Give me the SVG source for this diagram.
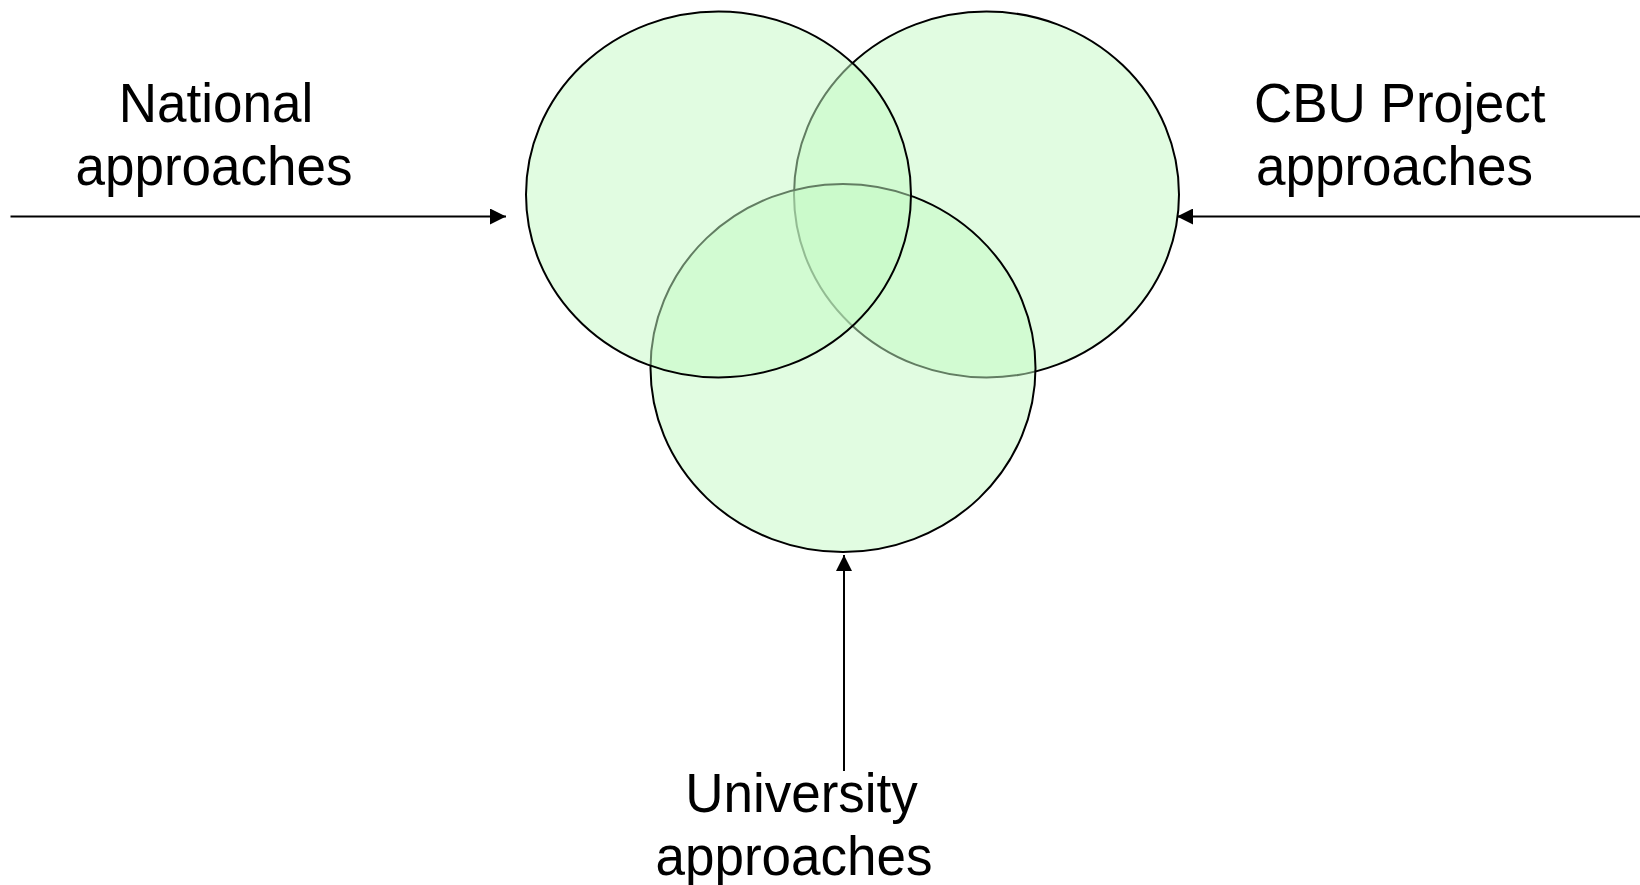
<svg xmlns="http://www.w3.org/2000/svg" width="1640" height="885" viewBox="0 0 1640 885">
<style>
.venn{fill:#C4FAC4;fill-opacity:0.5;stroke:#000;stroke-width:2}
.lbl{font-family:"Liberation Sans",Arial,sans-serif;font-size:53px;fill:#000}
.conn{stroke:#000;stroke-width:2;fill:none}
</style>
<defs>
<marker id="ah" markerUnits="userSpaceOnUse" markerWidth="16" markerHeight="16" viewBox="0 0 16 16" refX="16" refY="8" orient="auto">
<path d="M0,0 L16,8 L0,16 Z" fill="#000"/>
</marker>
</defs>
<rect width="1640" height="885" fill="#fff"/>
<g id="cbu-circle"><ellipse class="venn" cx="986.5" cy="194.5" rx="192.5" ry="183"/></g>
<g id="university-circle"><ellipse class="venn" cx="843" cy="368" rx="192.5" ry="184"/></g>
<g id="national-circle"><ellipse class="venn" cx="718.5" cy="194.5" rx="192.5" ry="183"/></g>
<g id="national-label"><text class="lbl" text-anchor="middle" transform="translate(214,122) scale(1,1.05)"><tspan x="2" y="0">National</tspan><tspan x="0" y="60">approaches</tspan></text></g>
<g id="cbu-label"><text class="lbl" transform="translate(1254,122) scale(1,1.05)"><tspan x="0" y="0">CBU Project</tspan><tspan x="2" y="60">approaches</tspan></text></g>
<g id="university-label"><text class="lbl" text-anchor="middle" transform="translate(0,812) scale(1,1.05)"><tspan x="801.5" y="0">University</tspan><tspan x="794" y="60">approaches</tspan></text></g>
<g id="connectors">
<line class="conn" x1="10.5" y1="216.5" x2="506" y2="216.5" marker-end="url(#ah)"/>
<line class="conn" x1="1640" y1="216.5" x2="1177" y2="216.5" marker-end="url(#ah)"/>
<line class="conn" x1="844" y1="771" x2="844" y2="555" marker-end="url(#ah)"/>
</g>
</svg>
